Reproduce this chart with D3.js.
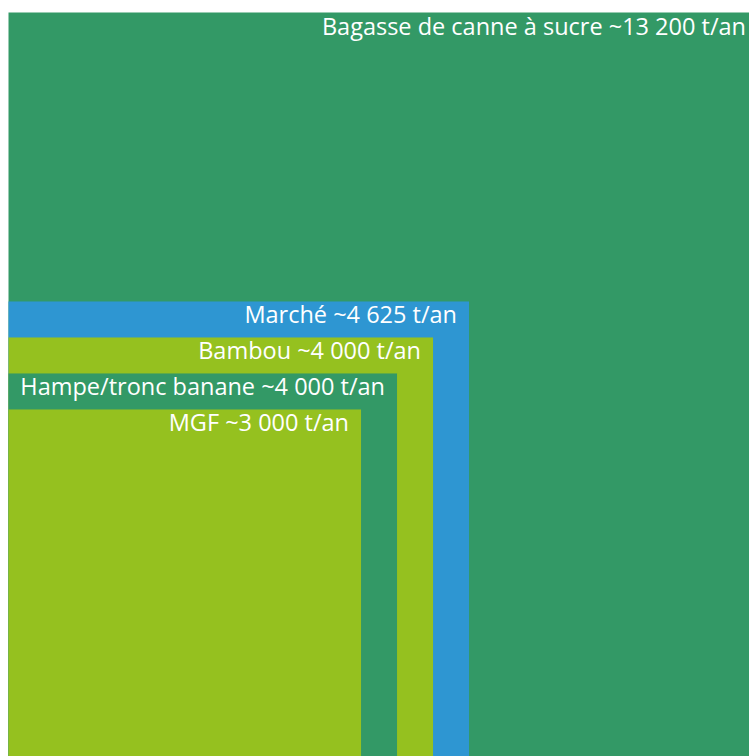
<!DOCTYPE html>
<html lang="fr">
<head>
<meta charset="utf-8">
<script src="https://cdn.jsdelivr.net/npm/d3@7"></script>
<style>
  html, body { margin: 0; padding: 0; background: #ffffff; }
  svg { display: block; }
  .label { font-family: "Open Sans", "Noto Sans", sans-serif; fill: #ffffff; }
</style>
</head>
<body>
<svg id="chart" width="749" height="756"></svg>
<script>
// Gisements de biomasse, en tonnes par an
const categories = ["Bagasse de canne à sucre", "Marché", "Bambou", "Hampe/tronc banane", "MGF"];
const tonnages = [13200, 4625, 4000, 4000, 3000];
const unit = "t/an";
const colors = ["#339966", "#2E96D2", "#95C11F", "#339966", "#95C11F"];

const width = 749, height = 756;
const margin = { left: 8.5, top: 12.5 };
const bottom = 762;           // squares share a common baseline just below the frame
const gap = 36;               // minimum step between nested squares (room for a label)
const fontSize = 23.5;
const labelPad = { right: 12, top: 22 };

const fr = d3.formatLocale({ decimal: ",", thousands: " ", grouping: [3], currency: ["", " €"] });
const fmt = fr.format(",d");

const svg = d3.select("#chart");

// square area proportional to the tonnage
const side = d3.scaleSqrt()
  .domain([0, d3.max(tonnages)])
  .range([0, bottom - margin.top]);

// Nested squares must each be at least `gap` smaller than their parent.
// Closest sizes to the proportional ones under that constraint:
// shift by i*gap, fit a non-increasing sequence (pool adjacent violators), shift back.
function nestedSides(targets, step) {
  const blocks = [];
  targets.forEach((t, i) => {
    blocks.push({ sum: t + i * step, n: 1 });
    while (blocks.length > 1) {
      const a = blocks[blocks.length - 2], b = blocks[blocks.length - 1];
      if (a.sum / a.n >= b.sum / b.n) break;
      a.sum += b.sum; a.n += b.n; blocks.pop();
    }
  });
  const out = [];
  blocks.forEach(b => { for (let k = 0; k < b.n; k++) out.push(b.sum / b.n); });
  return out.map((w, i) => w - i * step);
}

const sides = nestedSides(tonnages.map(v => side(v)), gap);
const squares = categories.map((name, i) => ({
  name, value: tonnages[i], color: colors[i], s: sides[i]
}));

const g = svg.append("g");

g.selectAll("rect")
  .data(squares)
  .join("rect")
  .attr("x", margin.left)
  .attr("y", d => bottom - d.s)
  .attr("width", d => d.s)
  .attr("height", d => d.s)
  .attr("fill", d => d.color);

g.selectAll("text")
  .data(squares)
  .join("text")
  .attr("class", "label")
  .attr("x", d => margin.left + d.s - labelPad.right)
  .attr("y", d => bottom - d.s + labelPad.top)
  .attr("text-anchor", "end")
  .style("font-size", fontSize + "px")
  .text(d => `${d.name} ~${fmt(d.value)} ${unit}`);
</script>
</body>
</html>
